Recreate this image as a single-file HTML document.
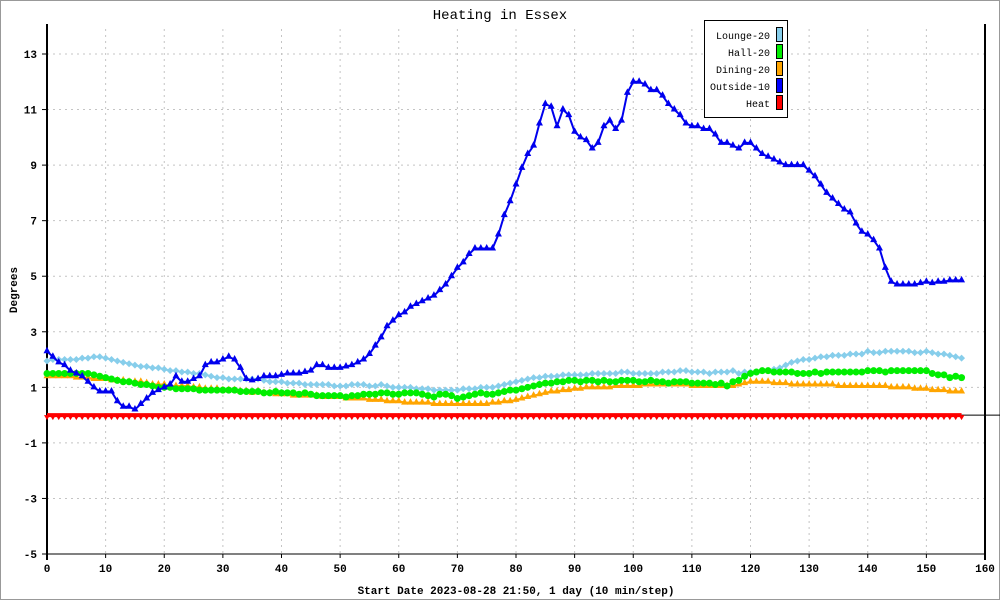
<!DOCTYPE html>
<html><head><meta charset="utf-8"><style>
html,body{margin:0;padding:0;background:#fff}
svg{display:block;font-family:"Liberation Mono",monospace}
</style></head><body>
<svg id="chart" width="1000" height="600" viewBox="0 0 1000 600" xmlns="http://www.w3.org/2000/svg">
<rect x="0.5" y="0.5" width="999" height="599" fill="#fff" stroke="#999"/>
<text x="500" y="19" text-anchor="middle" font-size="14">Heating in Essex</text>
<g id="grid"></g>
<g id="axes"></g>
<g id="series"></g>
<text x="17" y="290" text-anchor="middle" font-size="11" font-weight="bold" transform="rotate(-90 17 290)">Degrees</text>
<text x="516" y="594" text-anchor="middle" font-size="11" font-weight="bold">Start Date 2023-08-28 21:50, 1 day (10 min/step)</text>
<g id="legend">
<rect x="704.5" y="20.5" width="83" height="97" fill="#fff" stroke="#000"/>
</g>
</svg>
<script>
const xTicks=[0,10,20,30,40,50,60,70,80,90,100,110,120,130,140,150,160];
const yTicks=[-5,-3,-1,1,3,5,7,9,11,13];
const seriesNames=["Lounge-20","Hall-20","Dining-20","Outside-10","Heat"];
const outside=[2.3,2.1,1.9,1.8,1.6,1.5,1.4,1.2,1.0,0.85,
0.85,0.85,0.5,0.3,0.3,0.2,0.4,0.6,0.8,0.9,
1.0,1.1,1.4,1.2,1.2,1.3,1.4,1.8,1.9,1.9,
2.0,2.1,2.0,1.7,1.3,1.25,1.3,1.4,1.4,1.4,
1.45,1.5,1.5,1.5,1.55,1.6,1.8,1.8,1.7,1.7,
1.7,1.75,1.8,1.9,2.0,2.2,2.5,2.8,3.2,3.4,
3.6,3.7,3.9,4.0,4.1,4.2,4.3,4.5,4.7,5.0,
5.3,5.5,5.8,6.0,6.0,6.0,6.0,6.5,7.2,7.7,
8.3,8.9,9.4,9.7,10.5,11.2,11.1,10.4,11.0,10.8,
10.2,10.0,9.9,9.6,9.8,10.4,10.6,10.3,10.6,11.6,
12.0,12.0,11.9,11.7,11.7,11.5,11.2,11.0,10.8,10.5,
10.4,10.4,10.3,10.3,10.1,9.8,9.8,9.7,9.6,9.8,
9.8,9.6,9.4,9.3,9.2,9.1,9.0,9.0,9.0,9.0,
8.8,8.6,8.3,8.0,7.8,7.6,7.4,7.3,6.9,6.6,
6.5,6.3,6.0,5.3,4.8,4.7,4.7,4.7,4.7,4.75,
4.8,4.75,4.8,4.8,4.85,4.85,4.85];
const lounge=[1.95,2.0,2.0,2.0,2.0,2.0,2.05,2.05,2.1,2.1,
2.05,2.0,1.95,1.9,1.85,1.8,1.75,1.75,1.7,1.7,
1.65,1.6,1.6,1.55,1.55,1.5,1.5,1.45,1.4,1.35,
1.35,1.3,1.3,1.3,1.3,1.3,1.3,1.25,1.2,1.2,
1.2,1.15,1.15,1.15,1.1,1.1,1.1,1.1,1.1,1.05,
1.05,1.05,1.1,1.1,1.1,1.05,1.05,1.1,1.05,1.0,
1.0,1.0,1.0,0.95,0.95,0.95,0.9,0.9,0.9,0.9,
0.9,0.95,0.95,0.95,1.0,1.0,1.0,1.05,1.1,1.15,
1.2,1.25,1.3,1.35,1.35,1.4,1.4,1.4,1.45,1.45,
1.45,1.45,1.45,1.5,1.5,1.5,1.5,1.5,1.55,1.55,
1.5,1.5,1.5,1.5,1.5,1.55,1.55,1.55,1.6,1.6,
1.55,1.55,1.55,1.5,1.55,1.55,1.55,1.6,1.5,1.55,
1.55,1.55,1.6,1.6,1.65,1.7,1.8,1.9,1.95,2.0,
2.0,2.05,2.1,2.1,2.15,2.15,2.15,2.2,2.2,2.2,
2.3,2.25,2.25,2.3,2.3,2.3,2.3,2.3,2.25,2.25,
2.3,2.25,2.2,2.2,2.15,2.1,2.05];
const hall=[1.5,1.5,1.5,1.5,1.5,1.5,1.5,1.5,1.45,1.4,
1.35,1.3,1.25,1.2,1.2,1.15,1.1,1.1,1.05,1.0,
1.0,1.0,0.95,0.95,0.95,0.95,0.9,0.9,0.9,0.9,
0.9,0.9,0.9,0.85,0.85,0.85,0.85,0.8,0.8,0.85,
0.8,0.8,0.8,0.75,0.8,0.75,0.7,0.7,0.7,0.7,
0.7,0.65,0.7,0.7,0.75,0.75,0.75,0.8,0.8,0.75,
0.75,0.8,0.8,0.8,0.75,0.7,0.65,0.75,0.75,0.7,
0.6,0.65,0.7,0.75,0.8,0.75,0.75,0.8,0.85,0.9,
0.9,0.95,1.0,1.05,1.1,1.15,1.15,1.2,1.2,1.25,
1.25,1.2,1.25,1.25,1.2,1.25,1.2,1.2,1.25,1.25,
1.25,1.2,1.2,1.25,1.2,1.2,1.15,1.2,1.2,1.2,
1.15,1.15,1.15,1.15,1.1,1.15,1.05,1.2,1.25,1.4,
1.5,1.55,1.6,1.6,1.55,1.55,1.55,1.55,1.5,1.5,
1.5,1.55,1.5,1.55,1.55,1.55,1.55,1.55,1.55,1.55,
1.6,1.6,1.6,1.55,1.6,1.6,1.6,1.6,1.6,1.6,
1.6,1.5,1.45,1.45,1.35,1.4,1.35];
const dining=[1.4,1.4,1.4,1.4,1.4,1.35,1.35,1.35,1.3,1.3,
1.3,1.25,1.25,1.25,1.2,1.2,1.2,1.15,1.1,1.1,
1.1,1.05,1.05,1.05,1.05,1.0,1.0,0.95,0.95,0.95,
0.9,0.9,0.9,0.85,0.85,0.8,0.85,0.8,0.8,0.75,
0.75,0.75,0.7,0.7,0.7,0.7,0.7,0.65,0.65,0.65,
0.65,0.6,0.6,0.6,0.6,0.55,0.55,0.55,0.5,0.5,
0.5,0.45,0.45,0.45,0.45,0.45,0.4,0.4,0.4,0.4,
0.4,0.4,0.4,0.4,0.4,0.4,0.45,0.45,0.5,0.5,
0.55,0.6,0.65,0.7,0.75,0.8,0.85,0.85,0.9,0.9,
0.95,0.95,1.0,1.0,1.0,1.0,1.0,1.05,1.05,1.05,
1.05,1.05,1.1,1.1,1.1,1.1,1.1,1.1,1.1,1.1,
1.05,1.05,1.05,1.05,1.05,1.05,1.05,1.05,1.1,1.15,
1.2,1.2,1.2,1.2,1.15,1.15,1.15,1.1,1.1,1.1,
1.1,1.1,1.1,1.1,1.1,1.05,1.05,1.05,1.05,1.05,
1.05,1.05,1.05,1.05,1.0,1.0,1.0,1.0,0.95,0.95,
0.95,0.9,0.9,0.9,0.85,0.85,0.85];
const heat=new Array(157).fill(0);

const NS="http://www.w3.org/2000/svg";
const X0=47,X1=985,Y0=554,Y1=54,XMIN=0,XMAX=160,YMIN=-5,YMAX=13;
function xs(v){return X0+(v-XMIN)/(XMAX-XMIN)*(X1-X0);}
function ys(v){return Y0-(v-YMIN)/(YMAX-YMIN)*(Y0-Y1);}
function mk(tag,attrs,parent){const e=document.createElementNS(NS,tag);for(const k in attrs)e.setAttribute(k,attrs[k]);parent.appendChild(e);return e;}
const grid=document.getElementById('grid'),axes=document.getElementById('axes'),ser=document.getElementById('series'),leg=document.getElementById('legend');

xTicks.forEach(t=>{
  const x=xs(t);
  if(t>0&&t<160){const g=mk('line',{x1:x,y1:Y1-25,x2:x,y2:Y0,stroke:'#c4c4c4','stroke-dasharray':'2,4'},grid);
  
  }
  const tk=mk('line',{x1:x,y1:Y0,x2:x,y2:Y0+4,stroke:'#000'},axes);
  
  
  const lb=mk('text',{x:x,y:Y0+18,'text-anchor':'middle','font-size':'11','font-weight':'bold'},axes);
  lb.textContent=t;
  
  
});
yTicks.forEach(t=>{
  const y=ys(t);
  const g=mk('line',{x1:X0,y1:y,x2:X1,y2:y,stroke:'#c4c4c4','stroke-dasharray':'2,4'},grid);
  
  
  const tk=mk('line',{x1:X0-5,y1:y,x2:X0,y2:y,stroke:'#000'},axes);
  
  
  const lb=mk('text',{x:X0-10,y:y+4,'text-anchor':'end','font-size':'11','font-weight':'bold'},axes);
  lb.textContent=t;
  
  
});
const ya=mk('line',{x1:X0,y1:Y1-30,x2:X0,y2:Y0+6,stroke:'#000','stroke-width':2},axes);


const ya2=mk('line',{x1:X1,y1:Y1-30,x2:X1,y2:Y0+6,stroke:'#000','stroke-width':2},axes);


const xa=mk('line',{x1:X0,y1:Y0,x2:X1,y2:Y0,stroke:'#000','stroke-width':1},axes);


const zl=mk('line',{x1:X0,y1:ys(0),x2:X1+15,y2:ys(0),stroke:'#000','stroke-width':1},axes);



function marker(type,x,y,col,g){
  let el;
  if(type==='circle')el=mk('circle',{cx:x,cy:y,r:3.5,fill:col},g);
  else if(type==='diamond')el=mk('polygon',{points:`${x},${y-3.5} ${x+3.5},${y} ${x},${y+3.5} ${x-3.5},${y}`,fill:col},g);
  else if(type==='up')el=mk('polygon',{points:`${x},${y-4.5} ${x+3.5},${y+2} ${x-3.5},${y+2}`,fill:col},g);
  else el=mk('polygon',{points:`${x-3},${y} ${x+3},${y} ${x},${y+5}`,fill:col},g);
  return el;
}
function draw(data,col,type,name){
  const g=mk('g',{},ser);
  
  
  const pts=data.map((v,i)=>xs(i)+','+ys(v)).join(' ');
  const pl=mk('polyline',{points:pts,fill:'none',stroke:col,'stroke-width':type==='down'?4:2,'stroke-linejoin':'round'},g);
  
  
  data.forEach((v,i)=>{
    const m=marker(type,xs(i),ys(v),col,g);
    
    
  });
}
draw(lounge,'#87ceeb','diamond','lounge');
draw(dining,'#ffa500','up','dining');
draw(hall,'#00ee00','circle','hall');
draw(outside,'#0000ee','up','outside');
draw(heat,'#ff0000','down','heat');

const legCols=['#87ceeb','#00ee00','#ffa500','#0000ff','#ff0000'];
seriesNames.forEach((n,i)=>{
  const y=39+i*17;
  const t=mk('text',{x:770,y:y,'text-anchor':'end','font-size':'10'},leg);
  t.textContent=n;
  
  
  const r=mk('rect',{x:776.5,y:y-11.5,width:6,height:14,fill:legCols[i],stroke:'#000'},leg);
  
  
});
</script>
</body></html>
